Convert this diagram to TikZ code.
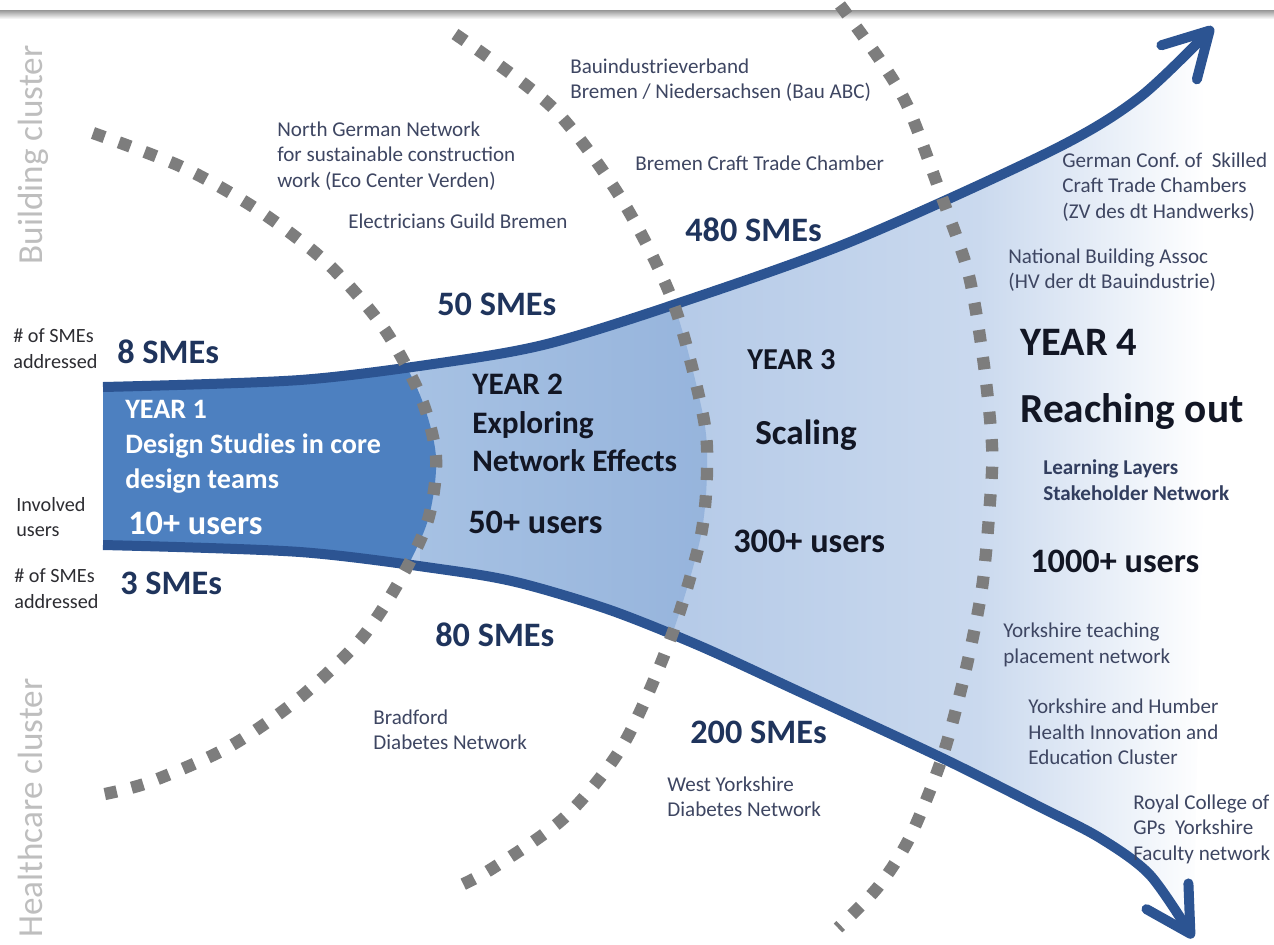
\documentclass[tikz,border=0pt]{standalone}
\usepackage{fontspec}
\setmainfont{Carlito}
\usetikzlibrary{arrows.meta}
\frenchspacing
\definecolor{edgeblue}{RGB}{44,84,146}
\definecolor{yoneblue}{RGB}{77,128,192}
\definecolor{ytwoL}{RGB}{166,193,227}
\definecolor{ytwoR}{RGB}{150,180,220}
\definecolor{ythreeL}{RGB}{182,203,232}
\definecolor{ythreeR}{RGB}{202,217,238}
\definecolor{smenavy}{RGB}{31,52,92}
\definecolor{yeartext}{RGB}{18,22,36}
\definecolor{orgtext}{RGB}{62,70,98}
\definecolor{lltext}{RGB}{50,62,95}
\definecolor{labeltext}{RGB}{45,45,50}
\definecolor{clustergrey}{RGB}{190,190,190}
\definecolor{dotgrey}{RGB}{125,125,125}
\definecolor{topbar}{RGB}{150,150,150}
\tikzset{
  edge/.style={draw=edgeblue, line width=0.2cm,
    -{Straight Barb[length=25pt,width=28pt,round]}},
  dotarc/.style={draw=dotgrey, line width=0.245cm, dash pattern=on 0.245cm off 0.305cm},
  org/.style={font=\fontsize{12}{14.5}\selectfont, text=orgtext, align=left, anchor=west, inner sep=0pt},
  sme/.style={font=\fontsize{19.5}{23}\selectfont\bfseries, text=smenavy, anchor=west, inner sep=0pt},
  side/.style={font=\fontsize{11.5}{14.7}\selectfont, text=labeltext, align=left, anchor=west, inner sep=0pt},
  clus/.style={font=\fontsize{20}{24}\selectfont, text=clustergrey, rotate=90, inner sep=0pt},
  yone/.style={font=\fontsize{16}{19.8}\selectfont\bfseries, text=white, align=left, anchor=west, inner sep=0pt},
  ytext/.style={font=\fontsize{17.8}{21.8}\selectfont\bfseries, text=yeartext, align=left, anchor=west, inner sep=0pt},
  users/.style={font=\fontsize{19.5}{23}\selectfont\bfseries, text=yeartext, anchor=west, inner sep=0pt},
  big/.style={font=\fontsize{23.5}{28}\selectfont\bfseries, text=yeartext, anchor=west, inner sep=0pt},
  ll/.style={font=\fontsize{12}{14.7}\selectfont\bfseries, text=lltext, align=left, anchor=west, inner sep=0pt}
}
\begin{document}
\begin{tikzpicture}[x=0.02cm,y=-0.02cm]
\useasboundingbox (0,0) rectangle (1274,944);
\fill[white] (0,0) rectangle (1274,944);
\shade[top color=topbar, bottom color=white] (0,10) rectangle (1274,19);

% funnel fills
\begin{scope}
\clip plot[smooth] coordinates {(103,387) (300,380) (447,362) (547,344) (670,306) (850,242) (1053,150) (1140,97) (1213,27)}
  -- plot[smooth] coordinates {(1193,938) (1150,875) (1100,838) (1040,807) (940,757) (800,692) (700,646) (610,610) (520,583) (447,570) (300,552) (103,545)} -- cycle;
\fill[ythreeL] (0,0) rectangle (700,944);
\shade[left color=ythreeL, right color=ythreeR] (690,0) rectangle (980,944);
\shade[left color=ythreeR, right color=white] (979,0) rectangle (1205,944);
\fill[white] (1204,0) rectangle (1274,944);
\begin{scope}
\clip (0,0) -- plot[smooth] coordinates {(455,34) (553,108) (622,200) (673,302) (703,415) (707,472) (700,540) (670,640) (623,745) (565,817) (493,868) (455,888)} -- (0,944) -- cycle;
\shade[left color=ytwoL, right color=ytwoR] (420,0) rectangle (712,944);
\end{scope}
\fill[yoneblue] (0,0) -- plot[smooth] coordinates {(93,133) (182,167) (258,210) (327,263) (383,327) (420,395) (436,457) (428,520) (400,580) (360,640) (297,700) (227,748) (147,783) (95,796)} -- (0,944) -- cycle;
\end{scope}

% funnel edges with arrows
\draw[edge] plot[smooth] coordinates {(103,387) (300,380) (447,362) (547,344) (670,306) (850,242) (1053,150) (1140,97) (1213,27)};
\draw[edge] plot[smooth] coordinates {(103,545) (300,552) (447,570) (520,583) (610,610) (700,646) (800,692) (940,757) (1040,807) (1100,838) (1150,875) (1193,938)};

% dotted year boundaries
\draw[dotarc] plot[smooth] coordinates {(93,133) (182,167) (258,210) (327,263) (383,327) (420,395) (436,457) (428,520) (400,580) (360,640) (297,700) (227,748) (147,783) (95,796)};
\draw[dotarc] plot[smooth] coordinates {(455,34) (553,108) (622,200) (673,302) (703,415) (707,472) (700,540) (670,640) (623,745) (565,817) (493,868) (455,888)};
\draw[dotarc] plot[smooth] coordinates {(840,5) (880,60) (908,107) (940,192) (968,272) (983,358) (992,445) (990,502) (982,588) (965,673) (942,758) (910,837) (878,887) (838,928)};

% cluster labels
\node[clus] (bc) at (33,155) {Building cluster};
\node[clus] (hc) at (30,808) {Healthcare cluster};

% organisations
\node[org] (ngn) at (277,156) {North German Network\\for sustainable construction\\work (Eco Center Verden)};
\node[org] (egb) at (348,221) {Electricians Guild Bremen};
\node[org] (bau) at (570,80) {Bauindustrieverband\\Bremen / Niedersachsen (Bau ABC)};
\node[org] (bct) at (635,163) {Bremen Craft Trade Chamber};
\node[org] (gcs) at (1062,187) {German Conf. of~ Skilled\\Craft Trade Chambers\\(ZV des dt Handwerks)};
\node[org] (nba) at (1008,270) {National Building Assoc\\(HV der dt Bauindustrie)};
\node[org] (bdn) at (373,730) {Bradford\\Diabetes Network};
\node[org] (wyd) at (667,797) {West Yorkshire\\Diabetes Network};
\node[org] (ytp) at (1003,645) {Yorkshire teaching\\placement network};
\node[org] (yhh) at (1028,732) {Yorkshire and Humber\\Health Innovation and\\Education Cluster};
\node[org] (rcg) at (1133,829) {Royal College of\\GPs~ Yorkshire\\Faculty network};

% SME counts
\node[sme] (s480) at (685,230) {480 SMEs};
\node[sme] (s50) at (437,304) {50 SMEs};
\node[sme] (s8) at (117,352) {8 SMEs};
\node[sme] (s3) at (120,583) {3 SMEs};
\node[sme] (s80) at (435,635) {80 SMEs};
\node[sme] (s200) at (690,732) {200 SMEs};

% side labels
\node[side] (sa1) at (13,349) {\# of SMEs\\addressed};
\node[side] (iu) at (16,517) {Involved\\users};
\node[side] (sa2) at (14,589) {\# of SMEs\\addressed};

% years
\node[yone] (y1) at (125,447) {YEAR 1\\Design Studies in core\\design teams};
\node[users, text=white] (u10) at (128,523) {10+ users};
\node[ytext] (y2) at (472,423) {YEAR 2\\Exploring\\Network Effects};
\node[users] (u50) at (468,522) {50+ users};
\node[ytext, font=\fontsize{17.3}{21}\selectfont\bfseries] (y3) at (747,360) {YEAR 3};
\node[ytext, font=\fontsize{20}{24}\selectfont\bfseries] (sc) at (755,435) {Scaling};
\node[users] (u300) at (733,541) {300+ users};
\node[big, font=\fontsize{23}{28}\selectfont\bfseries] (y4) at (1020,342) {YEAR 4};
\node[big] (ro) at (1020,412) {Reaching out};
\node[ll] (ll) at (1043,480) {Learning Layers\\Stakeholder Network};
\node[users] (u1000) at (1030,561) {1000+ users};
\end{tikzpicture}
\end{document}
